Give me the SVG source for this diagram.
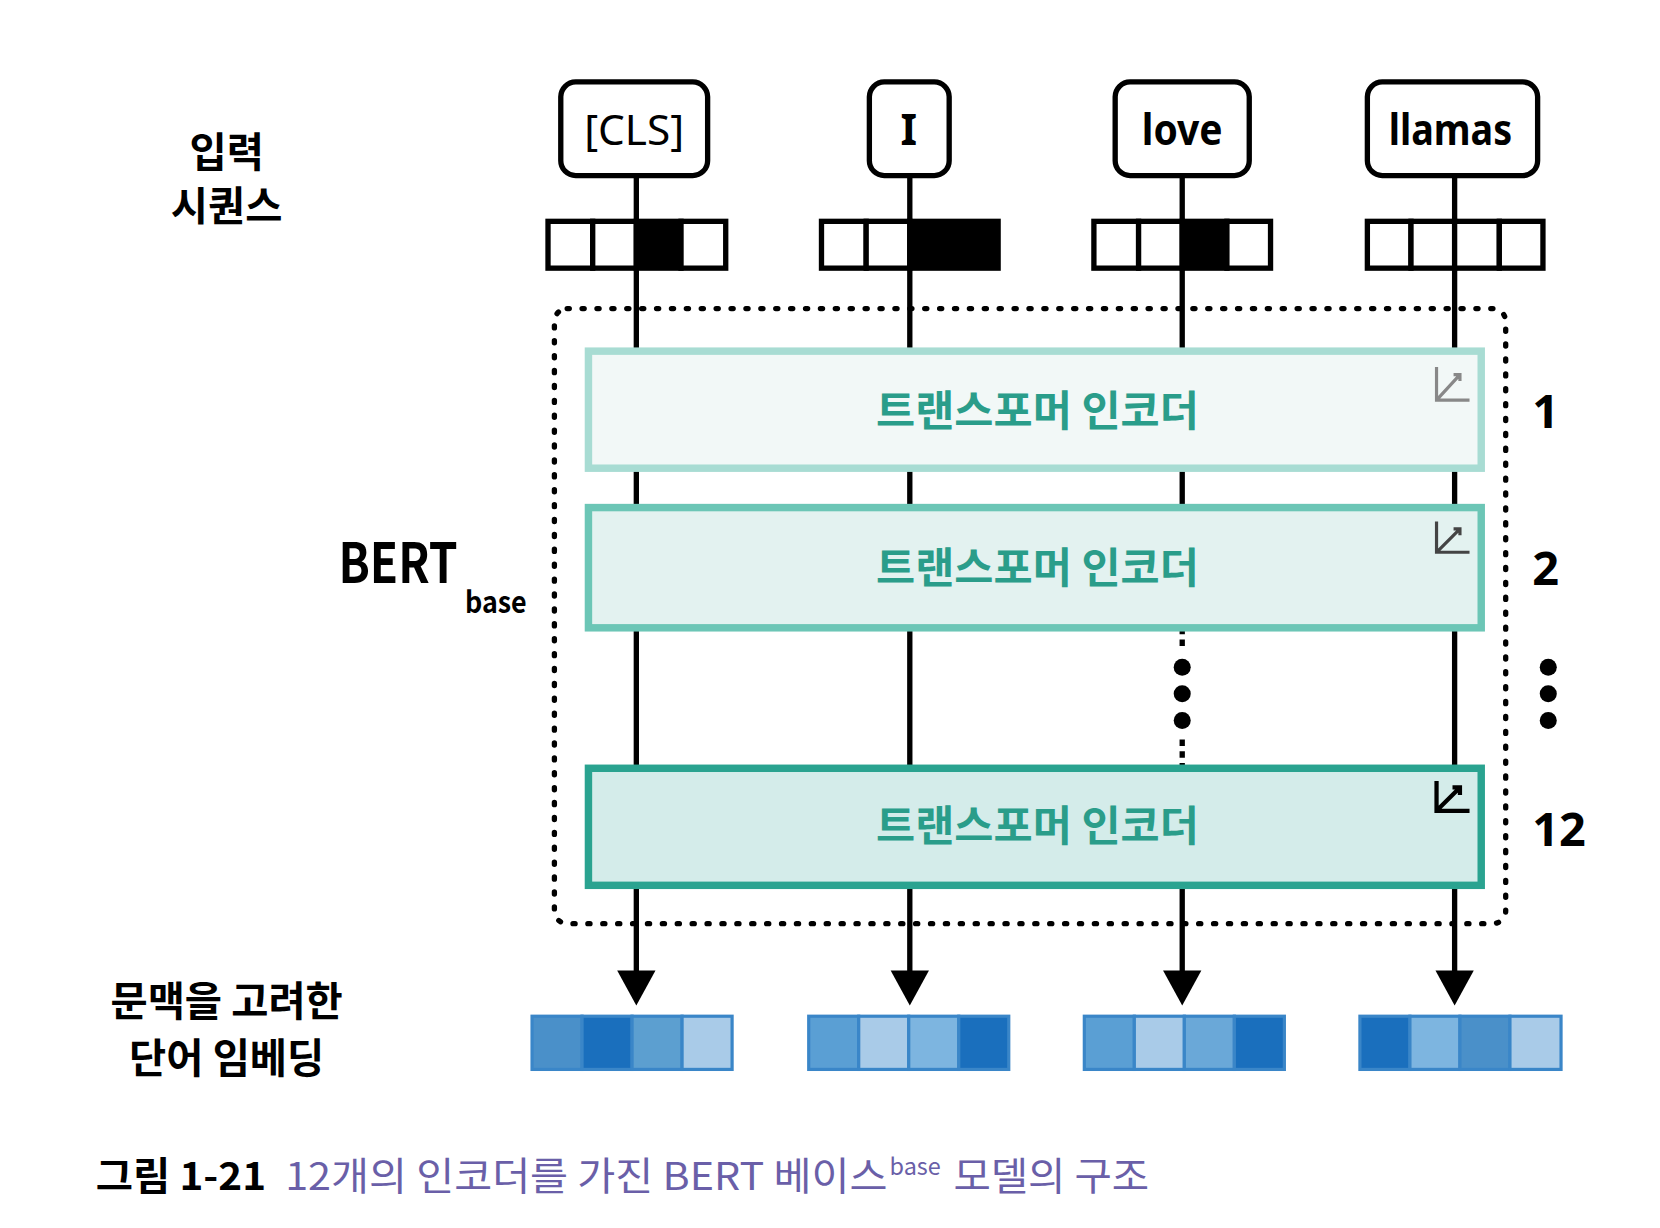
<svg xmlns="http://www.w3.org/2000/svg" width="1660" height="1228" viewBox="0 0 1660 1228">
<defs>
<style>
.lbl{font-family:"Noto Sans CJK KR","Noto Sans",sans-serif;font-weight:700;fill:#000}
.tok{font-family:"Noto Sans",sans-serif;font-size:40px;fill:#000;text-anchor:middle}
.tbox{fill:#fff;stroke:#000;stroke-width:5}
.cell{stroke:#000;stroke-width:5}
.enc{font-family:"Noto Sans CJK KR",sans-serif;font-weight:700;font-size:40px;fill:#2a9d8a;text-anchor:middle}
.num{font-family:"Noto Sans",sans-serif;font-weight:700;font-size:44px;fill:#000}
.ln{stroke:#000;stroke-width:5;fill:none}
.ob{stroke:#3a86c8;stroke-width:3}
</style>
</defs>
<rect width="1660" height="1228" fill="#fff"/>
<g transform="scale(1.0641)">
<g id="labels">
<text class="lbl" x="213" y="157" font-size="38" text-anchor="middle">입력</text>
<text class="lbl" x="213" y="208" font-size="38" text-anchor="middle">시퀀스</text>
<text class="lbl" x="318" y="548" font-size="52" textLength="112" lengthAdjust="spacingAndGlyphs">BERT</text>
<text class="lbl" x="437" y="576" font-size="28" textLength="58" lengthAdjust="spacingAndGlyphs">base</text>
<text class="lbl" x="213" y="955" font-size="38" text-anchor="middle">문맥을 고려한</text>
<text class="lbl" x="213" y="1008" font-size="38" text-anchor="middle">단어 임베딩</text>
</g>
<g id="connectors">
<rect x="521" y="290" width="894" height="578" rx="12" fill="none" stroke="#000" stroke-width="5" stroke-dasharray="2 12" stroke-linecap="round"/>
<path class="ln" d="M598 165V330M855 165V330M1111 165V330M1367 165V330"/>
<path class="ln" d="M598 440V477M855 440V477M1111 440V477M1367 440V477" stroke="#555"/>
<path class="ln" d="M598 590V722M855 590V722M1367 590V722"/>
<path class="ln" d="M1111 590V610M1111 695V722" stroke-dasharray="6 5"/>
<circle cx="1111" cy="627" r="8"/><circle cx="1111" cy="652" r="8"/><circle cx="1111" cy="677" r="8"/>
<g fill="#000"><path class="ln" d="M598 832V915M855 832V915M1111 832V915M1367 832V915"/>
<path d="M580 912L616 912L598 945z"/><path d="M837 912L873 912L855 945z"/><path d="M1093 912L1129 912L1111 945z"/><path d="M1349 912L1385 912L1367 945z"/></g>
</g>
<g id="tok-cls"><rect class="tbox" x="527" y="77" width="138" height="88" rx="14"/><text class="tok" x="596" y="136" textLength="94" lengthAdjust="spacingAndGlyphs">[CLS]</text>
<rect class="cell" x="515" y="208" width="42" height="44" fill="#fff"/><rect class="cell" x="557" y="208" width="41" height="44" fill="#fff"/><rect class="cell" x="598" y="208" width="42" height="44" fill="#000"/><rect class="cell" x="640" y="208" width="42" height="44" fill="#fff"/></g>
<g id="tok-i"><rect class="tbox" x="817" y="77" width="75" height="88" rx="14"/><text class="tok" x="854" y="136" font-weight="700">I</text>
<rect class="cell" x="772" y="208" width="42" height="44" fill="#fff"/><rect class="cell" x="814" y="208" width="41" height="44" fill="#fff"/><rect class="cell" x="855" y="208" width="83" height="44" fill="#000"/></g>
<g id="tok-love"><rect class="tbox" x="1048" y="77" width="126" height="88" rx="14"/><text class="tok" x="1111" y="136" font-weight="700" textLength="76" lengthAdjust="spacingAndGlyphs">love</text>
<rect class="cell" x="1028" y="208" width="42" height="44" fill="#fff"/><rect class="cell" x="1070" y="208" width="41" height="44" fill="#fff"/><rect class="cell" x="1111" y="208" width="42" height="44" fill="#000"/><rect class="cell" x="1153" y="208" width="41" height="44" fill="#fff"/></g>
<g id="tok-llamas"><rect class="tbox" x="1285" y="77" width="160" height="88" rx="14"/><text class="tok" x="1363" y="136" font-weight="700" textLength="116" lengthAdjust="spacingAndGlyphs">llamas</text>
<rect class="cell" x="1285" y="208" width="41" height="44" fill="#fff"/><rect class="cell" x="1326" y="208" width="41" height="44" fill="#fff"/><rect class="cell" x="1367" y="208" width="42" height="44" fill="#fff"/><rect class="cell" x="1409" y="208" width="41" height="44" fill="#fff"/></g>
<g id="enc1"><rect x="553" y="330" width="839" height="110" fill="#f2f8f7" stroke="#a8dcd3" stroke-width="7"/><text class="enc" x="975" y="400">트랜스포머 인코더</text>
<path d="M1350 345V376H1381M1350 376L1372 352M1366 352H1372V358" fill="none" stroke="#888" stroke-width="3"/><text class="num" x="1440" y="402">1</text></g>
<g id="enc2"><rect x="553" y="477" width="839" height="113" fill="#e3f2f0" stroke="#6cc6b6" stroke-width="7"/><text class="enc" x="975" y="548">트랜스포머 인코더</text>
<path d="M1350 490V519H1381M1350 519L1372 497M1366 497H1372V503" fill="none" stroke="#444" stroke-width="3"/><text class="num" x="1440" y="550">2</text>
<circle cx="1455" cy="627" r="8"/><circle cx="1455" cy="652" r="8"/><circle cx="1455" cy="677" r="8"/></g>
<g id="enc12"><rect x="553" y="722" width="839" height="110" fill="#d4ecea" stroke="#2aa390" stroke-width="7"/><text class="enc" x="975" y="790">트랜스포머 인코더</text>
<path d="M1350 734V762H1381M1350 762L1372 740M1365 740H1372V747" fill="none" stroke="#000" stroke-width="4"/><text class="num" x="1440" y="795">12</text></g>
<g id="out">
<rect class="ob" x="500" y="955" width="47" height="50" fill="#4a90c9"/><rect class="ob" x="547" y="955" width="47" height="50" fill="#1a6fbd"/><rect class="ob" x="594" y="955" width="47" height="50" fill="#5c9fd0"/><rect class="ob" x="641" y="955" width="47" height="50" fill="#a9cbe8"/>
<rect class="ob" x="760" y="955" width="47" height="50" fill="#5a9fd4"/><rect class="ob" x="807" y="955" width="47" height="50" fill="#a9cbe8"/><rect class="ob" x="854" y="955" width="47" height="50" fill="#7db5e0"/><rect class="ob" x="901" y="955" width="47" height="50" fill="#1a6fbd"/>
<rect class="ob" x="1019" y="955" width="47" height="50" fill="#5a9fd4"/><rect class="ob" x="1066" y="955" width="47" height="50" fill="#a9cbe8"/><rect class="ob" x="1113" y="955" width="47" height="50" fill="#6aa8d8"/><rect class="ob" x="1160" y="955" width="47" height="50" fill="#1a6fbd"/>
<rect class="ob" x="1278" y="955" width="47" height="50" fill="#1a6fbd"/><rect class="ob" x="1325" y="955" width="47" height="50" fill="#7db5e0"/><rect class="ob" x="1372" y="955" width="47" height="50" fill="#4a90c9"/><rect class="ob" x="1419" y="955" width="48" height="50" fill="#a9cbe8"/>
</g>
<g id="caption" font-family="Noto Sans CJK KR,sans-serif" font-size="36">
<text x="90" y="1118" font-weight="700" fill="#000" textLength="160" lengthAdjust="spacingAndGlyphs">그림 1-21</text>
<text x="268" y="1118" fill="#6a5fa8" textLength="566" lengthAdjust="spacingAndGlyphs">12개의 인코더를 가진 BERT 베이스</text>
<text x="836" y="1104" fill="#6a5fa8" font-size="22">base</text>
<text x="896" y="1118" fill="#6a5fa8" textLength="184" lengthAdjust="spacingAndGlyphs">모델의 구조</text>
</g>
</g>
</svg>
